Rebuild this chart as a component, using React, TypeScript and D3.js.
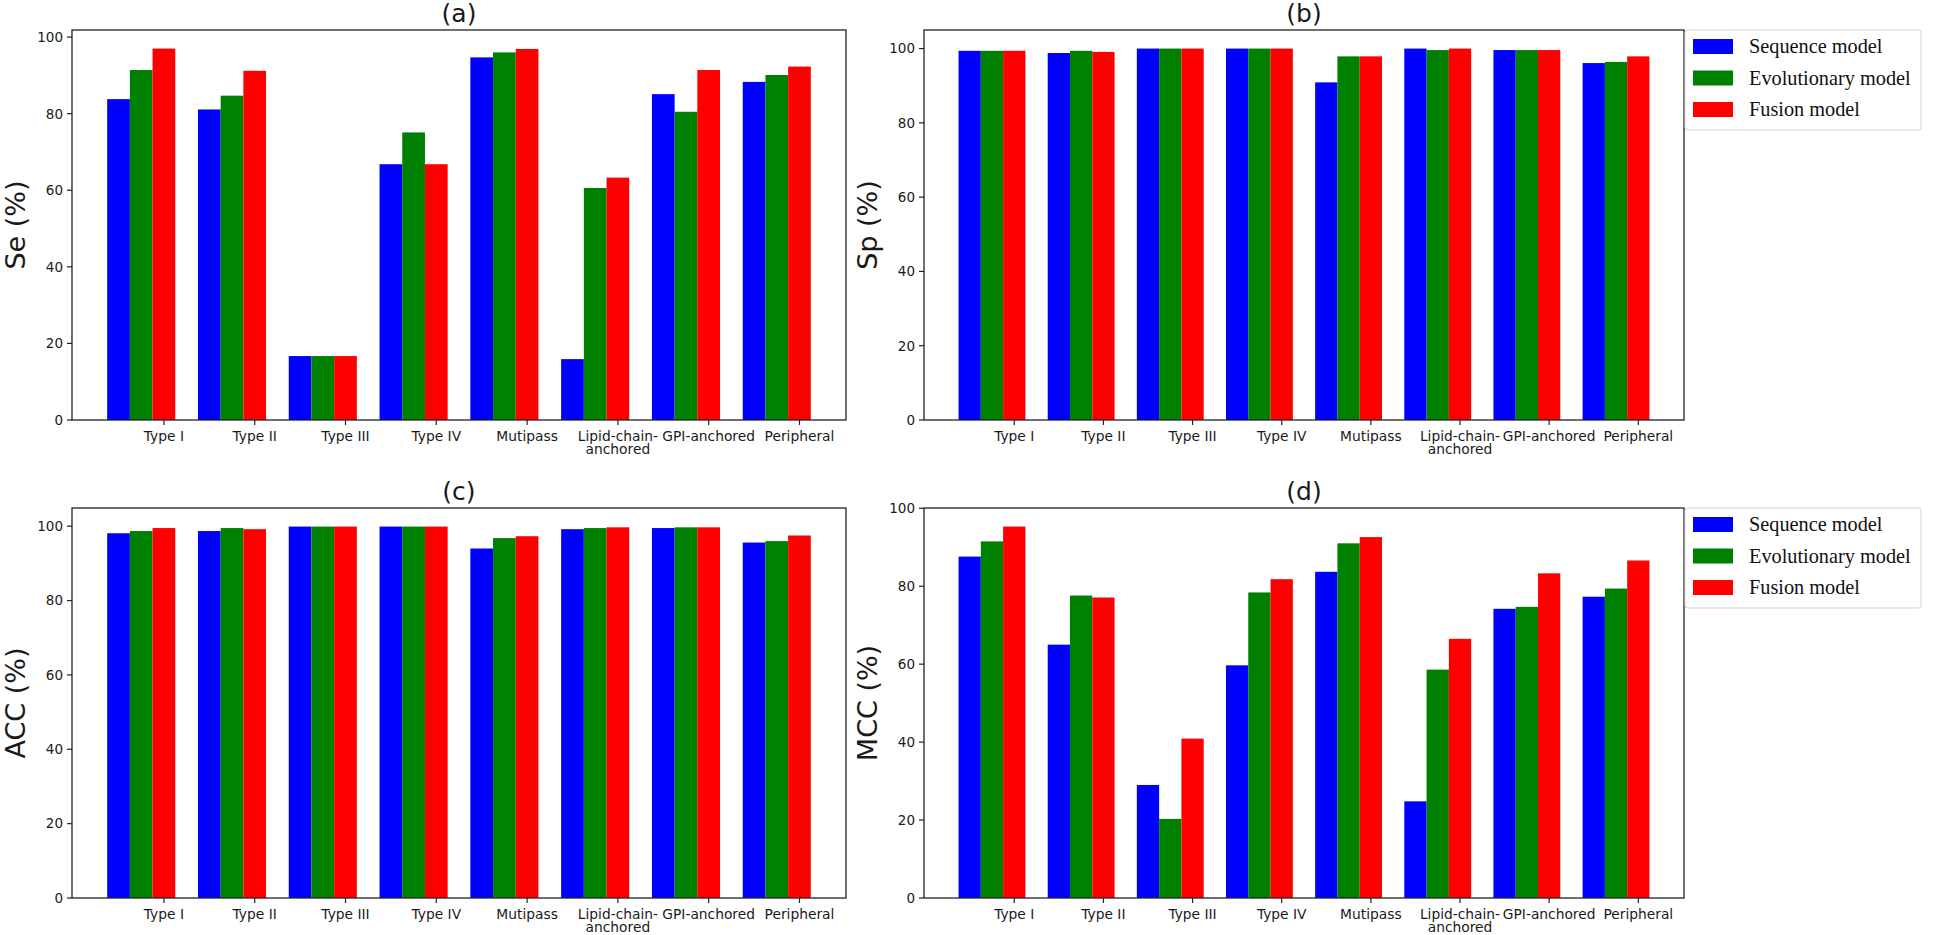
import * as d3 from "d3";
import { useEffect, useRef } from "react";

const categories = [
  ["Type I"],
  ["Type II"],
  ["Type III"],
  ["Type IV"],
  ["Mutipass"],
  ["Lipid-chain-", "anchored"],
  ["GPI-anchored"],
  ["Peripheral"],
];

const seriesNames = ["Sequence model", "Evolutionary model", "Fusion model"];
const seriesColors = ["#0000ff", "#008000", "#ff0000"];

const seSequence = [83.8, 81.1, 16.7, 66.8, 94.7, 15.9, 85.1, 88.3];
const seEvolutionary = [91.4, 84.7, 16.7, 75.1, 96.0, 60.6, 80.5, 90.1];
const seFusion = [97.0, 91.2, 16.7, 66.8, 96.9, 63.3, 91.4, 92.3];

const spSequence = [99.4, 98.8, 100, 100, 90.9, 100, 99.6, 96.1];
const spEvolutionary = [99.4, 99.4, 100, 100, 97.9, 99.6, 99.6, 96.4];
const spFusion = [99.4, 99.1, 100, 100, 97.9, 100, 99.6, 97.9];

const accSequence = [98.1, 98.7, 99.9, 99.9, 94.0, 99.2, 99.5, 95.6];
const accEvolutionary = [98.7, 99.5, 99.9, 99.9, 96.8, 99.5, 99.7, 96.0];
const accFusion = [99.5, 99.2, 99.9, 99.9, 97.3, 99.7, 99.7, 97.5];

const mccSequence = [87.6, 65.0, 29.0, 59.7, 83.7, 24.8, 74.2, 77.3];
const mccEvolutionary = [91.5, 77.6, 20.3, 78.4, 91.0, 58.6, 74.7, 79.4];
const mccFusion = [95.3, 77.1, 40.9, 81.8, 92.6, 66.5, 83.3, 86.6];

const yTicks = [0, 20, 40, 60, 80, 100];

const barWidth = 0.25;
const sansFont = "'DejaVu Sans', sans-serif";
const serifFont = "'Liberation Serif', 'Times New Roman', serif";
const ink = "#1a1a1a";

const panels = [
  { title: "(a)", label: "Se (%)", series: [seSequence, seEvolutionary, seFusion], left: 72, right: 846, top: 30, bottom: 420, legend: false },
  { title: "(b)", label: "Sp (%)", series: [spSequence, spEvolutionary, spFusion], left: 924, right: 1684, top: 30, bottom: 420, legend: true },
  { title: "(c)", label: "ACC (%)", series: [accSequence, accEvolutionary, accFusion], left: 72, right: 846, top: 508, bottom: 898, legend: false },
  { title: "(d)", label: "MCC (%)", series: [mccSequence, mccEvolutionary, mccFusion], left: 924, right: 1684, top: 508, bottom: 898, legend: true },
];

const App = () => {
  const svgRef = useRef(null);

  useEffect(() => {
    const svg = d3.select(svgRef.current);
    svg.selectAll("*").remove();

    panels.forEach((p) => {
      const g = svg.append("g");
      const n = categories.length;

      // matplotlib-like 5% margins around the bars
      const lo = -barWidth / 2;
      const hi = n - 1 + 2 * barWidth + barWidth / 2;
      const pad = (hi - lo) * 0.05;
      const x = d3.scaleLinear().domain([lo - pad, hi + pad]).range([p.left, p.right]);

      const ymax = d3.max(p.series.flat()) * 1.05;
      const y = d3.scaleLinear().domain([0, ymax]).range([p.bottom, p.top]);

      p.series.forEach((vals, s) => {
        g.append("g")
          .selectAll("rect")
          .data(vals)
          .join("rect")
          .attr("x", (d, i) => x(i + s * barWidth - barWidth / 2))
          .attr("width", (d, i) => x(i + s * barWidth + barWidth / 2) - x(i + s * barWidth - barWidth / 2))
          .attr("y", (d) => y(d))
          .attr("height", (d) => y(0) - y(d))
          .attr("fill", seriesColors[s]);
      });

      // frame
      g.append("rect")
        .attr("x", p.left)
        .attr("y", p.top)
        .attr("width", p.right - p.left)
        .attr("height", p.bottom - p.top)
        .attr("fill", "none")
        .attr("stroke", "#222")
        .attr("stroke-width", 1.3);

      // y ticks
      const yt = g.append("g");
      yTicks.filter((t) => t <= ymax + 0.5).forEach((t) => {
        const ty = Math.max(y(t), p.top);
        yt.append("line")
          .attr("x1", p.left - 5).attr("x2", p.left)
          .attr("y1", ty).attr("y2", ty)
          .attr("stroke", "#222").attr("stroke-width", 1.2);
        yt.append("text")
          .attr("x", p.left - 9)
          .attr("y", ty)
          .attr("dy", "0.36em")
          .attr("text-anchor", "end")
          .attr("font-family", sansFont)
          .attr("font-size", 13.5)
          .attr("fill", ink)
          .text(t);
      });

      // x ticks
      const xt = g.append("g");
      categories.forEach((lines, i) => {
        const tx = x(i + 2 * barWidth);
        xt.append("line")
          .attr("x1", tx).attr("x2", tx)
          .attr("y1", p.bottom).attr("y2", p.bottom + 5)
          .attr("stroke", "#222").attr("stroke-width", 1.2);
        const txt = xt.append("text")
          .attr("text-anchor", "middle")
          .attr("font-family", sansFont)
          .attr("font-size", 13.8)
          .attr("fill", ink);
        lines.forEach((l, k) => {
          txt.append("tspan").attr("x", tx).attr("y", p.bottom + 21 + k * 13).text(l);
        });
      });

      // title
      g.append("text")
        .attr("x", (p.left + p.right) / 2)
        .attr("y", p.top - 8)
        .attr("text-anchor", "middle")
        .attr("font-family", sansFont)
        .attr("font-size", 25)
        .attr("fill", ink)
        .text(p.title);

      // y label
      const lx = p.left - 47;
      const ly = (p.top + p.bottom) / 2;
      g.append("text")
        .attr("transform", `translate(${lx},${ly}) rotate(-90)`)
        .attr("text-anchor", "middle")
        .attr("font-family", sansFont)
        .attr("font-size", 27)
        .attr("fill", ink)
        .text(p.label);

      if (p.legend) {
        const lg = g.append("g").attr("transform", `translate(${p.right + 1},${p.top})`);
        lg.append("rect")
          .attr("x", 0).attr("y", 0)
          .attr("width", 236).attr("height", 100)
          .attr("rx", 3)
          .attr("fill", "white")
          .attr("stroke", "#d4d4d4")
          .attr("stroke-width", 1);
        seriesNames.forEach((name, s) => {
          const cy = 16.5 + s * 31.5;
          lg.append("rect")
            .attr("x", 8).attr("y", cy - 7.5)
            .attr("width", 40).attr("height", 15)
            .attr("fill", seriesColors[s]);
          lg.append("text")
            .attr("x", 64).attr("y", cy)
            .attr("dy", "0.33em")
            .attr("font-family", serifFont)
            .attr("font-size", 20.3)
            .attr("fill", "#111")
            .text(name);
        });
      }
    });
  }, []);

  return (
    <svg
      ref={svgRef}
      width={1946}
      height={935}
      style={{ position: "absolute", left: 0, top: 0, background: "white" }}
    />
  );
};

export default App;
